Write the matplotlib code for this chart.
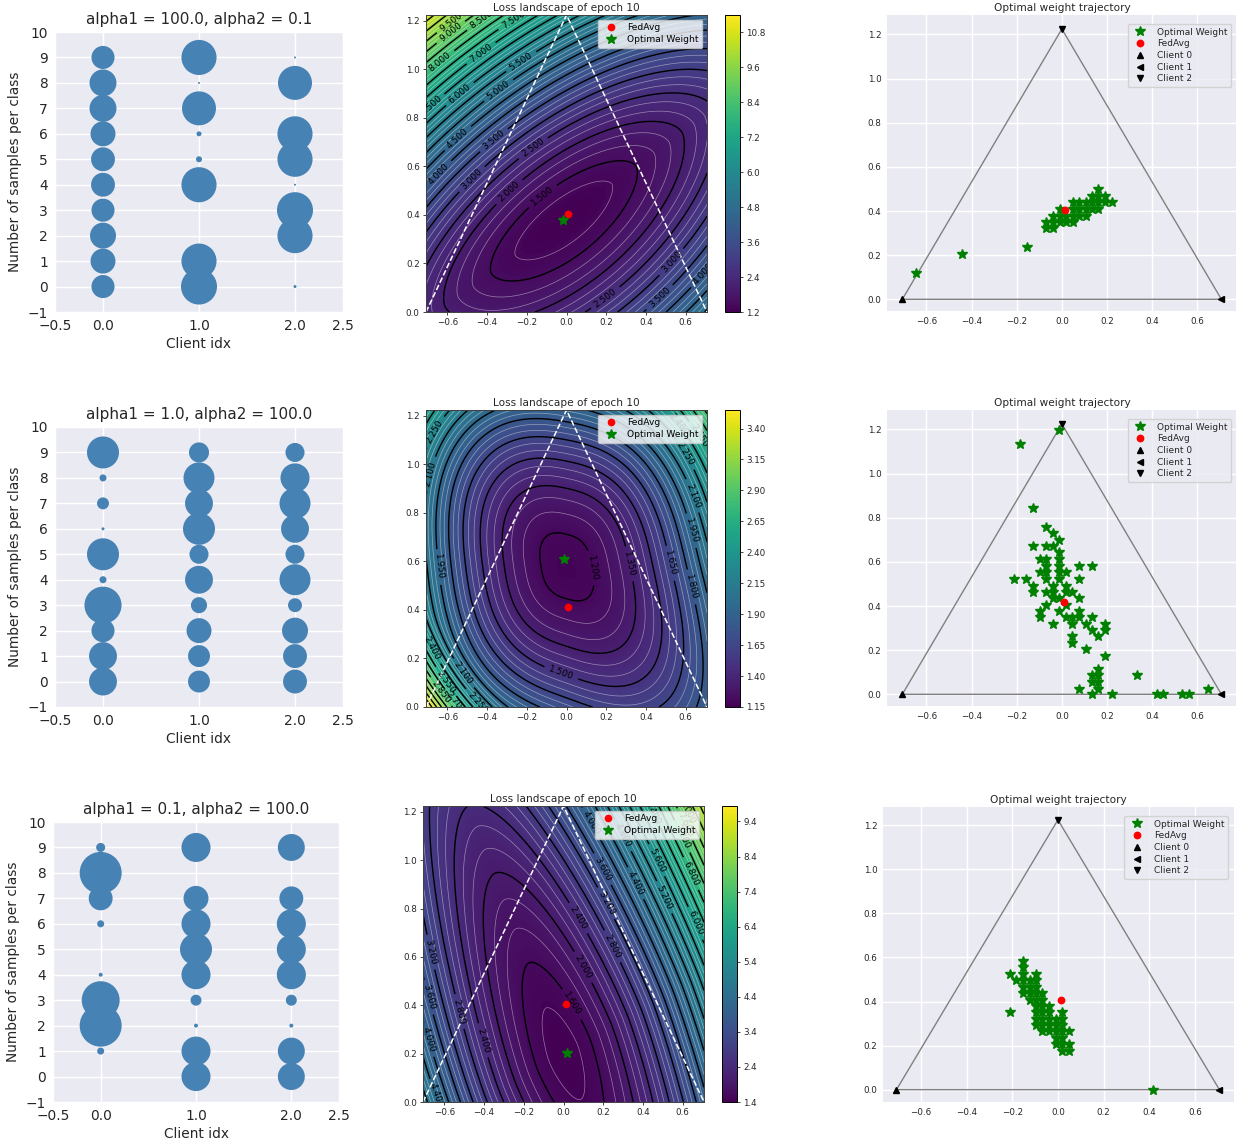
import numpy as np
import matplotlib
matplotlib.use("Agg")
import matplotlib.pyplot as plt

W, H = 1236, 1144
fig = plt.figure(figsize=(W / 100, H / 100), dpi=100)
TXT = "#262626"

def px_axes(l, t, r, b):
    return fig.add_axes([l / W, 1 - b / H, (r - l) / W, (b - t) / H])

# ---------------- data: samples per class (bubble plots) ----------------
titles_left = ["alpha1 = 100.0, alpha2 = 0.1", "alpha1 = 1.0, alpha2 = 100.0", "alpha1 = 0.1, alpha2 = 100.0"]
classes = list(range(10))
client_ids = [0, 1, 2]
# counts[row][client][class]
counts_row1 = [[41, 48, 52, 41, 44, 44, 48, 56, 56, 41],
               [100, 95, 0, 0, 95, 2.8, 1.9, 89, 0.3, 95],
               [0.7, 0, 95, 100, 0.3, 95, 95, 0, 89, 0.3]]
counts_row2 = [[60, 60, 41, 106, 3.8, 79, 0.7, 11, 3.8, 79],
               [37, 37, 48, 20, 60, 28, 79, 60, 74, 31],
               [44, 44, 52, 15, 74, 28, 60, 74, 65, 28]]
counts_row3 = [[0, 3.8, 136, 111, 1.2, 0, 3.8, 44, 136, 6.3],
               [65, 65, 1.2, 9.3, 65, 79, 65, 48, 0, 65],
               [56, 56, 1.2, 9.3, 65, 65, 65, 44, 0, 56]]
counts_all = [counts_row1, counts_row2, counts_row3]

# ---------------- data: loss landscape (read-off shape of each surface) ----------------
loss_min = [1.2, 1.17, 1.4]                        # minimum loss
loss_center = [(-0.014, 0.38), (0.0, 0.58), (0.0, 0.20)]   # location of the minimum
# rows 1 and 3: tilted elliptic bowls
loss_angle = [31.0, 0.0, 115.0]                    # direction of the long axis (deg)
loss_k_long = [1.65, 0.0, 0.82]                    # curvature along the long axis
loss_p_long = [2.0, 2.0, 1.6]
loss_k_short_pos = [8.4, 0.0, 6.34]                # curvature across it (one side)
loss_k_short_neg = [6.6, 0.0, 6.34]                # (other side)
loss_p_short = [1.7, 2.0, 1.8]
# row 2: rounded-square bowl
bowl2_kx, bowl2_ky, bowl2_q = 1.8, 1.7, 2.6
bowl2_cross = 0.75         # tilt (bottom-left / top-right steeper)
bowl2_skew = 0.35          # top-left side steeper than bottom-right
bowl2_wall = 9.4           # steep bottom-left corner

cbar_ticks = [[1.2, 2.4, 3.6, 4.8, 6.0, 7.2, 8.4, 9.6, 10.8],
              [1.15, 1.40, 1.65, 1.90, 2.15, 2.40, 2.65, 2.90, 3.15, 3.40],
              [1.4, 2.4, 3.4, 4.4, 5.4, 6.4, 7.4, 8.4, 9.4]]
cbar_range = [(1.2, 11.4), (1.15, 3.55), (1.4, 9.84)]
black_step = [0.5, 0.15, 0.4]
black_start = [1.5, 1.2, 1.6]

fedavg_xy = [(0.010, 0.403), (0.008, 0.413), (0.012, 0.405)]
optimal_xy = [(-0.017, 0.381), (-0.013, 0.612), (0.017, 0.202)]

# ---------------- data: optimal weight trajectories ----------------
traj_x1 = [-0.646, -0.443, -0.155, -0.069, -0.069, -0.040, -0.040, -0.040, -0.010, -0.010, -0.010, 0.019, 0.019,
           0.049, 0.049, 0.049, 0.049, 0.078, 0.078, 0.078, 0.108, 0.108, 0.108, 0.133, 0.133, 0.133,
           0.162, 0.162, 0.162, 0.162, 0.192, 0.192, 0.221]
traj_y1 = [0.117, 0.205, 0.235, 0.348, 0.321, 0.379, 0.348, 0.321, 0.409, 0.379, 0.348, 0.379, 0.348,
           0.439, 0.409, 0.379, 0.348, 0.439, 0.409, 0.379, 0.439, 0.409, 0.379, 0.470, 0.439, 0.409,
           0.500, 0.470, 0.439, 0.409, 0.470, 0.439, 0.439]
traj_x2 = [-0.185, -0.012, -0.128, -0.069, -0.041, -0.128, -0.069, -0.041, -0.012, -0.012, -0.099, -0.069,
           -0.012, -0.069, -0.012, 0.075, 0.133, -0.099, -0.069, -0.012, 0.018, -0.214, -0.158, -0.069,
           -0.012, 0.075, -0.128, -0.041, 0.018, -0.128, -0.069, -0.041, 0.018, 0.047, -0.041, -0.012,
           0.075, -0.069, 0.018, -0.099, -0.012, 0.075, -0.099, 0.018, 0.047, 0.075, 0.133, -0.041,
           0.047, 0.105, 0.190, 0.133, 0.190, 0.047, 0.162, 0.047, 0.105, 0.190, 0.162, 0.133, 0.162,
           0.332, 0.133, 0.162, 0.075, 0.162, 0.649, 0.133, 0.221, 0.420, 0.450, 0.534, 0.565]
traj_y2 = [1.136, 1.197, 0.844, 0.758, 0.730, 0.671, 0.671, 0.671, 0.700, 0.644, 0.611, 0.611,
           0.611, 0.580, 0.580, 0.583, 0.583, 0.553, 0.553, 0.553, 0.553, 0.523, 0.523, 0.523,
           0.523, 0.523, 0.492, 0.492, 0.492, 0.465, 0.465, 0.465, 0.465, 0.465, 0.435, 0.435,
           0.435, 0.405, 0.405, 0.379, 0.379, 0.379, 0.348, 0.348, 0.348, 0.348, 0.348, 0.318,
           0.318, 0.318, 0.318, 0.291, 0.291, 0.262, 0.262, 0.232, 0.205, 0.174, 0.114, 0.086, 0.086,
           0.086, 0.056, 0.056, 0.026, 0.026, 0.026, 0.0, 0.0, 0.0, 0.0, 0.0, 0.0]
traj_x3 = [-0.212, -0.212, -0.182, -0.153, -0.153, -0.153, -0.153, -0.153, -0.153, -0.124, -0.124, -0.124,
           -0.124, -0.095, -0.095, -0.095, -0.095, -0.095, -0.095, -0.095, -0.095, -0.095, -0.069, -0.069,
           -0.069, -0.069, -0.069, -0.069, -0.069, -0.039, -0.039, -0.039, -0.039, -0.039, -0.010, -0.010,
           -0.010, -0.010, -0.010, 0.019, 0.019, 0.019, 0.019, 0.019, 0.019, 0.019, 0.048, 0.048, 0.048, 0.416]
traj_y3 = [0.526, 0.352, 0.496, 0.584, 0.557, 0.526, 0.496, 0.466, 0.439, 0.496, 0.466, 0.439,
           0.408, 0.526, 0.496, 0.466, 0.439, 0.408, 0.379, 0.352, 0.322, 0.292, 0.439, 0.408,
           0.379, 0.352, 0.322, 0.292, 0.266, 0.382, 0.352, 0.322, 0.292, 0.266, 0.322, 0.292,
           0.266, 0.236, 0.206, 0.352, 0.322, 0.292, 0.266, 0.236, 0.206, 0.176, 0.266, 0.206, 0.176, 0.0]
traj_all = [(traj_x1, traj_y1), (traj_x2, traj_y2), (traj_x3, traj_y3)]
fedavg_traj = [(0.012, 0.405), (0.010, 0.417), (0.015, 0.408)]

tri_x = [-0.7071, 0.7071, 0.0]
tri_y = [0.0, 0.0, 1.2247]

# ---------------- layout (pixels: left, top, right, bottom) ----------------
left_boxes = [(55, 32, 343, 312), (55, 427, 343, 707), (53, 822, 339, 1102)]
mid_boxes = [(426, 15, 707, 312), (426, 410, 707, 707), (423, 806, 704, 1102)]
cb_boxes = [(725, 15, 740, 312), (725, 410, 740, 707), (722, 806, 737, 1102)]
right_boxes = [(887, 15, 1237.4, 311), (887, 410, 1237.4, 706), (883, 807, 1234, 1102)]
right_lims = [((-0.775, 0.778), (-0.053, 1.288)), ((-0.775, 0.778), (-0.053, 1.288)),
              ((-0.766, 0.771), (-0.056, 1.283))]


def darkgrid(ax):
    ax.set_facecolor("#EAEAF2")
    ax.grid(True, color="white", linewidth=1.0)
    ax.set_axisbelow(True)
    for s in ax.spines.values():
        s.set_visible(False)
    ax.tick_params(length=0, colors=TXT)


gx_ = np.linspace(-0.7071, 0.7071, 400)
gy_ = np.linspace(0.0, 1.2247, 400)
GX, GY = np.meshgrid(gx_, gy_)


def surface(r):
    cx, cy = loss_center[r]
    dx, dy = GX - cx, GY - cy
    if r == 1:
        q = bowl2_q
        d = (bowl2_kx ** (q / 2) * np.abs(dx) ** q + bowl2_ky ** (q / 2) * np.abs(dy) ** q) ** (2 / q)
        d = d + bowl2_cross * dx * dy
        w = (-dx + dy) / np.sqrt(2)
        z = -(dx + dy) / np.sqrt(2)
        d = d + bowl2_skew * w ** 3 + bowl2_wall * np.maximum(0.0, z - 0.6) ** 2
        return loss_min[r] + d
    th = np.deg2rad(loss_angle[r])
    u = dx * np.cos(th) + dy * np.sin(th)
    v = -dx * np.sin(th) + dy * np.cos(th)
    ks = np.where(v > 0, loss_k_short_pos[r], loss_k_short_neg[r])
    d = loss_k_long[r] * np.abs(u) ** loss_p_long[r] + ks * np.abs(v) ** loss_p_short[r]
    return loss_min[r] + d


for r in range(3):
    # ---- left: bubbles ----
    ax = px_axes(*left_boxes[r])
    darkgrid(ax)
    for c in client_ids:
        ax.scatter([c] * len(classes), classes, s=np.asarray(counts_all[r][c]) * 6.72,
                   color="steelblue", linewidths=0, zorder=3)
    ax.set_xlim(-0.5, 2.5)
    ax.set_ylim(-1, 10)
    ax.set_xticks([-0.5, 0.0, 1.0, 2.0, 2.5])
    ax.set_xticklabels(["\u22120.5", "0.0", "1.0", "2.0", "2.5"])
    ax.set_yticks(range(-1, 11))
    ax.tick_params(labelsize=9.9, pad=5)
    ax.set_title(titles_left[r], fontsize=11.0, color=TXT, pad=6)
    ax.set_xlabel("Client idx", fontsize=9.9, color=TXT, labelpad=3)
    ax.set_ylabel("Number of samples per class", fontsize=9.9, color=TXT, labelpad=4)

    # ---- middle: loss landscape ----
    ax = px_axes(*mid_boxes[r])
    Z = surface(r)
    vmin, vmax = cbar_range[r]
    Zc = np.clip(Z, vmin, vmax)
    cf = ax.contourf(GX, GY, Zc, levels=np.linspace(vmin, vmax, 200), cmap="viridis")
    st = black_step[r]
    blev = np.arange(black_start[r], vmax + 1e-9, st)
    fine = np.arange(black_start[r] - st, vmax + 1e-9, st / 3.0)
    wlev = np.array([l for l in fine if np.min(np.abs(blev - l)) > st / 10])
    ax.contour(GX, GY, Z, levels=wlev, colors="white", linewidths=0.5, alpha=0.45)
    cs = ax.contour(GX, GY, Z, levels=blev, colors="black", linewidths=1.0)
    ax.clabel(cs, inline=True, fontsize=6.5, fmt="%.3f")
    ax.plot([tri_x[0], tri_x[2], tri_x[1]], [tri_y[0], tri_y[2], tri_y[1]], "w--", linewidth=1.1)
    ax.plot(*fedavg_xy[r], "o", color="red", markersize=4.5, label="FedAvg", linestyle="none")
    ax.plot(*optimal_xy[r], "*", color="green", markersize=7, label="Optimal Weight", linestyle="none")
    ax.set_xlim(-0.7071, 0.7071)
    ax.set_ylim(0, 1.2247)
    ax.set_xticks([-0.6, -0.4, -0.2, 0.0, 0.2, 0.4, 0.6])
    ax.set_yticks([0.0, 0.2, 0.4, 0.6, 0.8, 1.0, 1.2])
    ax.tick_params(labelsize=6.3, length=2.5, width=0.6, colors=TXT, pad=2)
    for s in ax.spines.values():
        s.set_linewidth(0.7)
        s.set_color("#404040")
    ax.set_title("Loss landscape of epoch 10", fontsize=7.6, color=TXT, pad=3)
    ax.legend(loc="upper right", fontsize=6.6, framealpha=0.8, handletextpad=0.8, borderpad=0.4,
              labelspacing=0.3, edgecolor="#cccccc")
    cax = px_axes(*cb_boxes[r])
    cb = fig.colorbar(cf, cax=cax, ticks=cbar_ticks[r])
    cb.ax.tick_params(labelsize=6.3, length=2.5, width=0.6, colors=TXT, pad=2)
    if r == 1:
        cb.ax.set_yticklabels(["%.2f" % t for t in cbar_ticks[r]])
    else:
        cb.ax.set_yticklabels(["%.1f" % t for t in cbar_ticks[r]])
    cb.outline.set_linewidth(0.7)

    # ---- right: trajectory ----
    ax = px_axes(*right_boxes[r])
    darkgrid(ax)
    ax.plot([tri_x[0], tri_x[1], tri_x[2], tri_x[0]], [tri_y[0], tri_y[1], tri_y[2], tri_y[0]],
            color="gray", linewidth=1.0, zorder=2)
    tx, ty = traj_all[r]
    ax.plot(tx, ty, "*", color="green", markersize=7.5, linestyle="none", label="Optimal Weight", zorder=3)
    ax.plot(*fedavg_traj[r], "o", color="red", markersize=4.6, linestyle="none", label="FedAvg", zorder=4)
    ax.plot(tri_x[0], tri_y[0], "^", color="black", markersize=4, linestyle="none", label="Client 0", zorder=4)
    ax.plot(tri_x[1], tri_y[1], "<", color="black", markersize=4, linestyle="none", label="Client 1", zorder=4)
    ax.plot(tri_x[2], tri_y[2], "v", color="black", markersize=4, linestyle="none", label="Client 2", zorder=4)
    ax.set_xlim(*right_lims[r][0])
    ax.set_ylim(*right_lims[r][1])
    ax.set_xticks([-0.6, -0.4, -0.2, 0.0, 0.2, 0.4, 0.6])
    ax.set_yticks([0.0, 0.2, 0.4, 0.6, 0.8, 1.0, 1.2])
    ax.tick_params(labelsize=6.3, pad=4)
    ax.set_title("Optimal weight trajectory", fontsize=7.6, color=TXT, pad=3)
    leg = ax.legend(loc="upper right", fontsize=6.5, facecolor="#EAEAF2", edgecolor="#cccccc",
                    framealpha=0.8, labelspacing=0.3, handletextpad=0.9, borderpad=0.4,
                    bbox_to_anchor=(0.996, 0.985))
    for t in leg.get_texts():
        t.set_color(TXT)

fig.savefig("out.png", dpi=100)
